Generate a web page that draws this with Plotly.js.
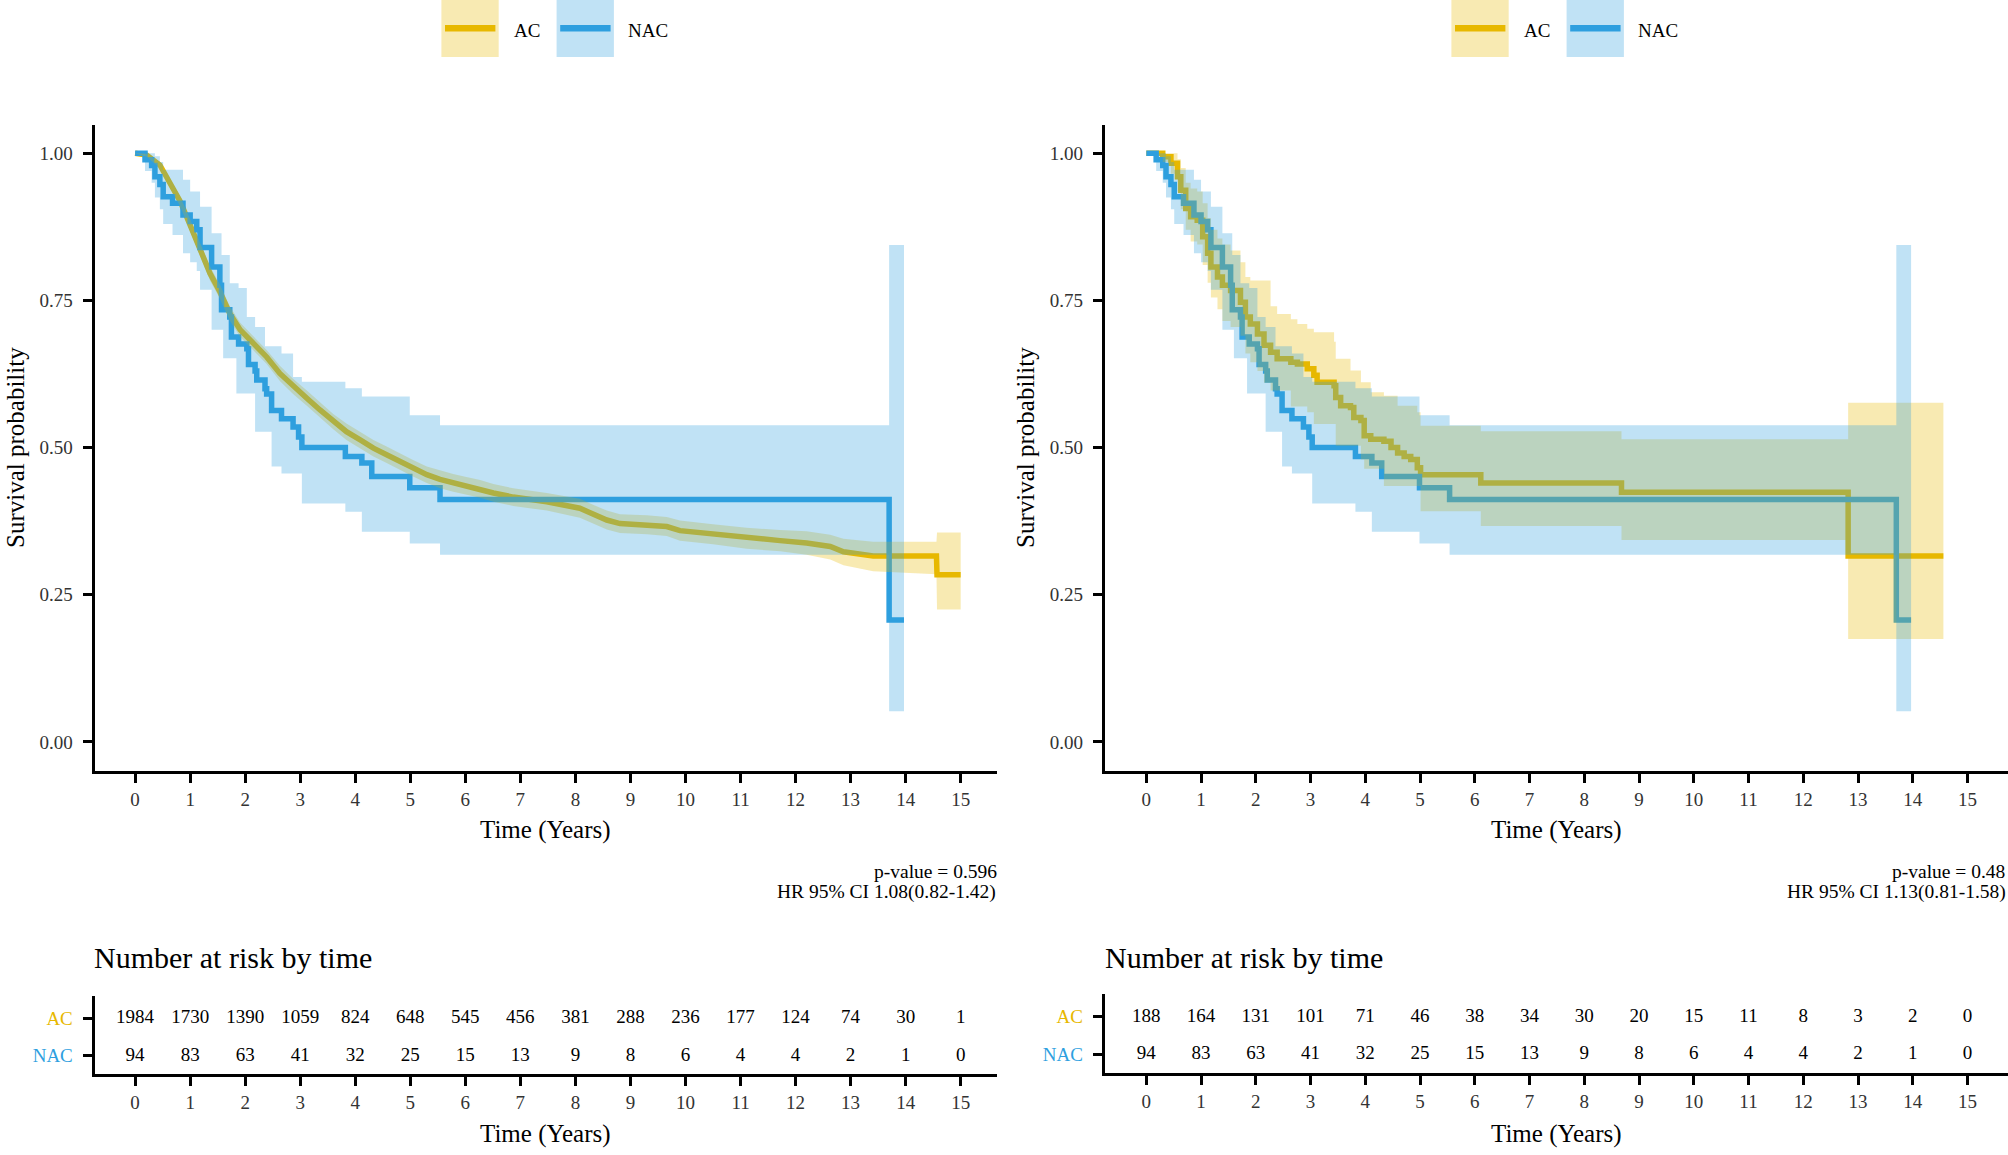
<!DOCTYPE html>
<html>
<head>
<meta charset="utf-8">
<script src="https://cdn.plot.ly/plotly-3.0.1.min.js"></script>
<style>html,body{margin:0;padding:0;background:#fff}#chart{width:2008px;height:1155px}</style>
</head>
<body>
<div id="chart"></div>
<script>
// ---- data ----
const years = [0, 1, 2, 3, 4, 5, 6, 7, 8, 9, 10, 11, 12, 13, 14, 15];

// left panel, AC (n = 1984)
const acT1 = [0, 0.21, 0.45, 0.63, 0.82, 1.0, 1.18, 1.36, 1.54, 1.72, 1.91, 2.15, 2.39, 2.63, 2.87, 3.12, 3.36, 3.6, 3.84, 4.09, 4.33, 4.57, 4.81, 5.05, 5.3, 5.54, 5.78, 6.02, 6.27, 6.51, 6.87, 7.48, 8.08, 8.3, 8.57, 8.81, 9.3, 9.66, 9.9, 10.5, 11.11, 11.72, 12.2, 12.63, 12.87, 13.41, 14.56, 14.57, 15.0];
const acS1 = [1.0, 0.997, 0.98, 0.949, 0.918, 0.878, 0.836, 0.796, 0.765, 0.728, 0.7, 0.677, 0.654, 0.626, 0.604, 0.584, 0.564, 0.544, 0.527, 0.513, 0.499, 0.488, 0.476, 0.465, 0.454, 0.446, 0.44, 0.435, 0.43, 0.423, 0.416, 0.408, 0.397, 0.388, 0.377, 0.371, 0.369, 0.366, 0.359, 0.353, 0.346, 0.342, 0.338, 0.332, 0.323, 0.316, 0.316, 0.284, 0.284];
const acLo1 = [1.0, 0.994, 0.975, 0.942, 0.91, 0.868, 0.825, 0.784, 0.753, 0.716, 0.688, 0.665, 0.642, 0.613, 0.591, 0.571, 0.551, 0.531, 0.513, 0.499, 0.485, 0.474, 0.462, 0.451, 0.44, 0.431, 0.425, 0.42, 0.415, 0.408, 0.401, 0.393, 0.381, 0.372, 0.361, 0.355, 0.353, 0.35, 0.342, 0.336, 0.328, 0.324, 0.318, 0.31, 0.3, 0.29, 0.285, 0.225, 0.225];
const acUp1 = [1.0, 0.999, 0.985, 0.956, 0.926, 0.888, 0.847, 0.808, 0.777, 0.74, 0.712, 0.689, 0.666, 0.639, 0.617, 0.597, 0.577, 0.557, 0.541, 0.527, 0.513, 0.502, 0.49, 0.479, 0.468, 0.461, 0.455, 0.45, 0.445, 0.438, 0.431, 0.423, 0.413, 0.404, 0.393, 0.387, 0.385, 0.382, 0.376, 0.37, 0.364, 0.36, 0.358, 0.352, 0.345, 0.34, 0.34, 0.356, 0.356];

// NAC (n = 94), same group in both panels
const nacT = [0, 0.18, 0.3, 0.36, 0.45, 0.51, 0.68, 0.87, 1.0, 1.12, 1.18, 1.39, 1.54, 1.57, 1.6, 1.72, 1.75, 1.84, 1.88, 2.03, 2.06, 2.18, 2.21, 2.36, 2.39, 2.48, 2.66, 2.87, 2.97, 3.03, 3.82, 4.12, 4.3, 4.99, 5.54, 13.7, 13.97];
const nacS = [1.0, 0.989, 0.979, 0.96, 0.947, 0.926, 0.915, 0.895, 0.884, 0.87, 0.84, 0.807, 0.776, 0.734, 0.734, 0.722, 0.688, 0.688, 0.676, 0.668, 0.641, 0.63, 0.615, 0.6, 0.591, 0.563, 0.549, 0.535, 0.518, 0.5, 0.485, 0.474, 0.451, 0.432, 0.412, 0.207, 0.207];
const nacLo = [1.0, 0.97, 0.95, 0.925, 0.905, 0.88, 0.861, 0.83, 0.815, 0.8, 0.768, 0.7, 0.7, 0.7, 0.652, 0.652, 0.652, 0.592, 0.592, 0.592, 0.592, 0.527, 0.527, 0.527, 0.527, 0.468, 0.456, 0.456, 0.456, 0.405, 0.391, 0.357, 0.357, 0.337, 0.318, 0.052, 0.052];
const nacUp = [1.0, 1.0, 1.0, 0.995, 0.985, 0.972, 0.972, 0.955, 0.935, 0.935, 0.909, 0.864, 0.864, 0.827, 0.827, 0.779, 0.779, 0.779, 0.771, 0.722, 0.722, 0.705, 0.705, 0.672, 0.672, 0.672, 0.66, 0.62, 0.62, 0.612, 0.601, 0.587, 0.587, 0.555, 0.538, 0.844, 0.844];

// right panel, AC (n = 188)
const acT2 = [0, 0.3, 0.45, 0.57, 0.63, 0.72, 0.81, 0.93, 1.03, 1.12, 1.18, 1.3, 1.39, 1.54, 1.72, 1.81, 1.9, 2.03, 2.15, 2.27, 2.39, 2.64, 2.76, 2.94, 3.06, 3.12, 3.43, 3.46, 3.55, 3.73, 3.79, 3.92, 3.98, 4.1, 4.34, 4.47, 4.59, 4.71, 4.83, 4.95, 5.01, 6.11, 8.68, 12.82, 14.56];
const acS2 = [1.0, 0.994, 0.983, 0.96, 0.937, 0.906, 0.892, 0.886, 0.858, 0.83, 0.807, 0.79, 0.776, 0.767, 0.747, 0.722, 0.71, 0.693, 0.674, 0.662, 0.651, 0.645, 0.642, 0.634, 0.623, 0.611, 0.605, 0.585, 0.571, 0.568, 0.551, 0.546, 0.52, 0.514, 0.511, 0.5, 0.491, 0.485, 0.48, 0.466, 0.454, 0.44, 0.424, 0.316, 0.316];
const acLo2 = [1.0, 0.985, 0.965, 0.935, 0.905, 0.87, 0.85, 0.845, 0.81, 0.78, 0.755, 0.735, 0.715, 0.705, 0.69, 0.66, 0.645, 0.63, 0.61, 0.597, 0.597, 0.57, 0.57, 0.56, 0.54, 0.54, 0.54, 0.503, 0.503, 0.503, 0.503, 0.48, 0.464, 0.464, 0.435, 0.435, 0.435, 0.435, 0.435, 0.435, 0.392, 0.367, 0.343, 0.175, 0.175];
const acUp2 = [1.0, 1.0, 1.0, 0.99, 0.975, 0.95, 0.94, 0.935, 0.915, 0.89, 0.87, 0.855, 0.845, 0.835, 0.815, 0.79, 0.784, 0.784, 0.784, 0.74, 0.727, 0.718, 0.71, 0.702, 0.696, 0.696, 0.68, 0.651, 0.651, 0.631, 0.631, 0.611, 0.611, 0.594, 0.588, 0.588, 0.571, 0.571, 0.571, 0.56, 0.537, 0.528, 0.514, 0.576, 0.576];

// number at risk
const riskAC1 = [1984, 1730, 1390, 1059, 824, 648, 545, 456, 381, 288, 236, 177, 124, 74, 30, 1];
const riskAC2 = [188, 164, 131, 101, 71, 46, 38, 34, 30, 20, 15, 11, 8, 3, 2, 0];
const riskNAC = [94, 83, 63, 41, 32, 25, 15, 13, 9, 8, 6, 4, 4, 2, 1, 0];

const pValues = ['p-value = 0.596', 'p-value = 0.48'];
const hrTexts = ['HR 95% CI 1.08(0.82-1.42)', 'HR 95% CI 1.13(0.81-1.58)'];

// ---- styling ----
const W = 2008, H = 1155;
const FONT = 'Liberation Serif, Times New Roman, serif';
const AC_COL = '#E7B800', NAC_COL = '#2E9FDF';
const AC_FILL = 'rgba(231,184,0,0.3)', NAC_FILL = 'rgba(46,159,223,0.3)';
const fx = p => p / W;
const fy = p => 1 - p / H;

function line(x, y, xa, ya, color, shape) {
  return { x, y, xaxis: xa, yaxis: ya, type: 'scatter', mode: 'lines',
    line: { color, width: 5.5, shape }, hoverinfo: 'skip', showlegend: false };
}
function band(x, lo, hi, xa, ya, fill, shape) {
  return [
    { x, y: lo, xaxis: xa, yaxis: ya, type: 'scatter', mode: 'lines',
      line: { width: 0, shape }, hoverinfo: 'skip', showlegend: false },
    { x, y: hi, xaxis: xa, yaxis: ya, type: 'scatter', mode: 'lines', fill: 'tonexty',
      fillcolor: fill, line: { width: 0, shape }, hoverinfo: 'skip', showlegend: false }
  ];
}
function riskRow(vals, row, xa, ya) {
  return { x: years, y: vals.map(() => row), text: vals.map(String), xaxis: xa, yaxis: ya,
    type: 'scatter', mode: 'text', textposition: 'middle center',
    textfont: { family: FONT, size: 19, color: '#000' }, hoverinfo: 'skip', showlegend: false };
}

const traces = [
  // left panel: lines first, ribbons on top (as in survminer)
  line(acT1, acS1, 'x', 'y', AC_COL, 'linear'),
  line(nacT, nacS, 'x', 'y', NAC_COL, 'hv'),
  ...band(acT1, acLo1, acUp1, 'x', 'y', AC_FILL, 'linear'),
  ...band(nacT, nacLo, nacUp, 'x', 'y', NAC_FILL, 'hv'),
  // right panel
  line(acT2, acS2, 'x2', 'y2', AC_COL, 'hv'),
  line(nacT, nacS, 'x2', 'y2', NAC_COL, 'hv'),
  ...band(acT2, acLo2, acUp2, 'x2', 'y2', AC_FILL, 'hv'),
  ...band(nacT, nacLo, nacUp, 'x2', 'y2', NAC_FILL, 'hv'),
  // risk tables
  riskRow(riskAC1, 2, 'x3', 'y3'),
  riskRow(riskNAC, 1, 'x3', 'y3'),
  riskRow(riskAC2, 2, 'x4', 'y4'),
  riskRow(riskNAC, 1, 'x4', 'y4')
];

const tickFont = { family: FONT, size: 19, color: '#333' };
const axisBase = { ticks: 'outside', ticklen: 9, tickwidth: 3, tickcolor: '#000',
  showline: true, linewidth: 3, linecolor: '#000', showgrid: false, zeroline: false,
  fixedrange: true, tickfont: tickFont };

function xAxis(dom, range, anchor) {
  return Object.assign({}, axisBase, { domain: dom, range, anchor, tickvals: years, ticklabelstandoff: 0 });
}

const mainY = [fy(770.7), fy(125)];
const leftX = [fx(94.6), fx(997)];
const rightX = [fx(1104.7), 1];
const leftRange = [-0.736, 15.66];
const rightRange = [-0.76, 15.74];
const riskRange = [0.52, 2.603];

const layout = {
  width: W, height: H, margin: { l: 0, r: 0, t: 0, b: 0 },
  paper_bgcolor: '#fff', plot_bgcolor: 'rgba(0,0,0,0)', showlegend: false,
  font: { family: FONT, color: '#000' },
  xaxis: xAxis(leftX, leftRange, 'y'),
  yaxis: Object.assign({}, axisBase, { domain: mainY, range: [-0.0488, 1.048], anchor: 'x',
    tickvals: [0, 0.25, 0.5, 0.75, 1], tickformat: '.2f', ticklabelstandoff: 6 }),
  xaxis2: xAxis(rightX, rightRange, 'y2'),
  yaxis2: Object.assign({}, axisBase, { domain: mainY, range: [-0.0488, 1.048], anchor: 'x2',
    tickvals: [0, 0.25, 0.5, 0.75, 1], tickformat: '.2f', ticklabelstandoff: 6 }),
  xaxis3: xAxis(leftX, leftRange, 'y3'),
  yaxis3: Object.assign({}, axisBase, { domain: [fy(1073.7), fy(996)], range: riskRange, anchor: 'x3',
    tickvals: [1, 2], ticklabelstandoff: 6,
    ticktext: ['<span style="color:' + NAC_COL + '">NAC</span>', '<span style="color:' + AC_COL + '">AC</span>'] }),
  xaxis4: xAxis(rightX, rightRange, 'y4'),
  yaxis4: Object.assign({}, axisBase, { domain: [fy(1072.7), fy(994)], range: riskRange, anchor: 'x4',
    tickvals: [1, 2], ticklabelstandoff: 6,
    ticktext: ['<span style="color:' + NAC_COL + '">NAC</span>', '<span style="color:' + AC_COL + '">AC</span>'] }),
  shapes: [],
  annotations: []
};

function note(text, px, py, size, xanchor, extra) {
  return Object.assign({ text, x: fx(px), y: fy(py), xref: 'paper', yref: 'paper',
    xanchor: xanchor || 'center', yanchor: 'middle', showarrow: false,
    font: { family: FONT, size, color: '#000' } }, extra || {});
}

[0, 1010].forEach((o, i) => {
  const plotL = i === 0 ? 94.6 : 1104.7;
  const plotR = i === 0 ? 997 : 2008;
  const mid = (plotL + plotR) / 2;
  // legend keys
  [[441.4, AC_FILL, AC_COL], [556.6, NAC_FILL, NAC_COL]].forEach(([x0, fill, col]) => {
    layout.shapes.push({ type: 'rect', xref: 'paper', yref: 'paper', x0: fx(x0 + o), x1: fx(x0 + 57.3 + o),
      y0: fy(57), y1: fy(0), fillcolor: fill, line: { width: 0 }, layer: 'above' });
    layout.shapes.push({ type: 'line', xref: 'paper', yref: 'paper', x0: fx(x0 + 3.6 + o), x1: fx(x0 + 54 + o),
      y0: fy(28.3), y1: fy(28.3), line: { color: col, width: 6.5 }, layer: 'above' });
  });
  layout.annotations.push(note('AC', 512 + o, 30, 19, 'left'));
  layout.annotations.push(note('NAC', 625.7 + o, 30, 19, 'left'));
  // axis titles
  layout.annotations.push(note('Survival probability', 15 + (i ? 1010 : 0), 448, 25, 'center', { textangle: -90 }));
  layout.annotations.push(note('Time (Years)', mid, 830, 25));
  layout.annotations.push(note('Time (Years)', mid, 1134, 25));
  // test results
  layout.annotations.push(note(pValues[i], i ? 2007 : 998.5, 871, 19.5, 'right'));
  layout.annotations.push(note(hrTexts[i], i ? 2007.5 : 997.7, 892, 19.5, 'right'));
  // risk table title
  layout.annotations.push(note('Number at risk by time', i ? 1103 : 91.5, 957, 30, 'left'));
});

Plotly.newPlot('chart', traces, layout, { staticPlot: true });
</script>
</body>
</html>
